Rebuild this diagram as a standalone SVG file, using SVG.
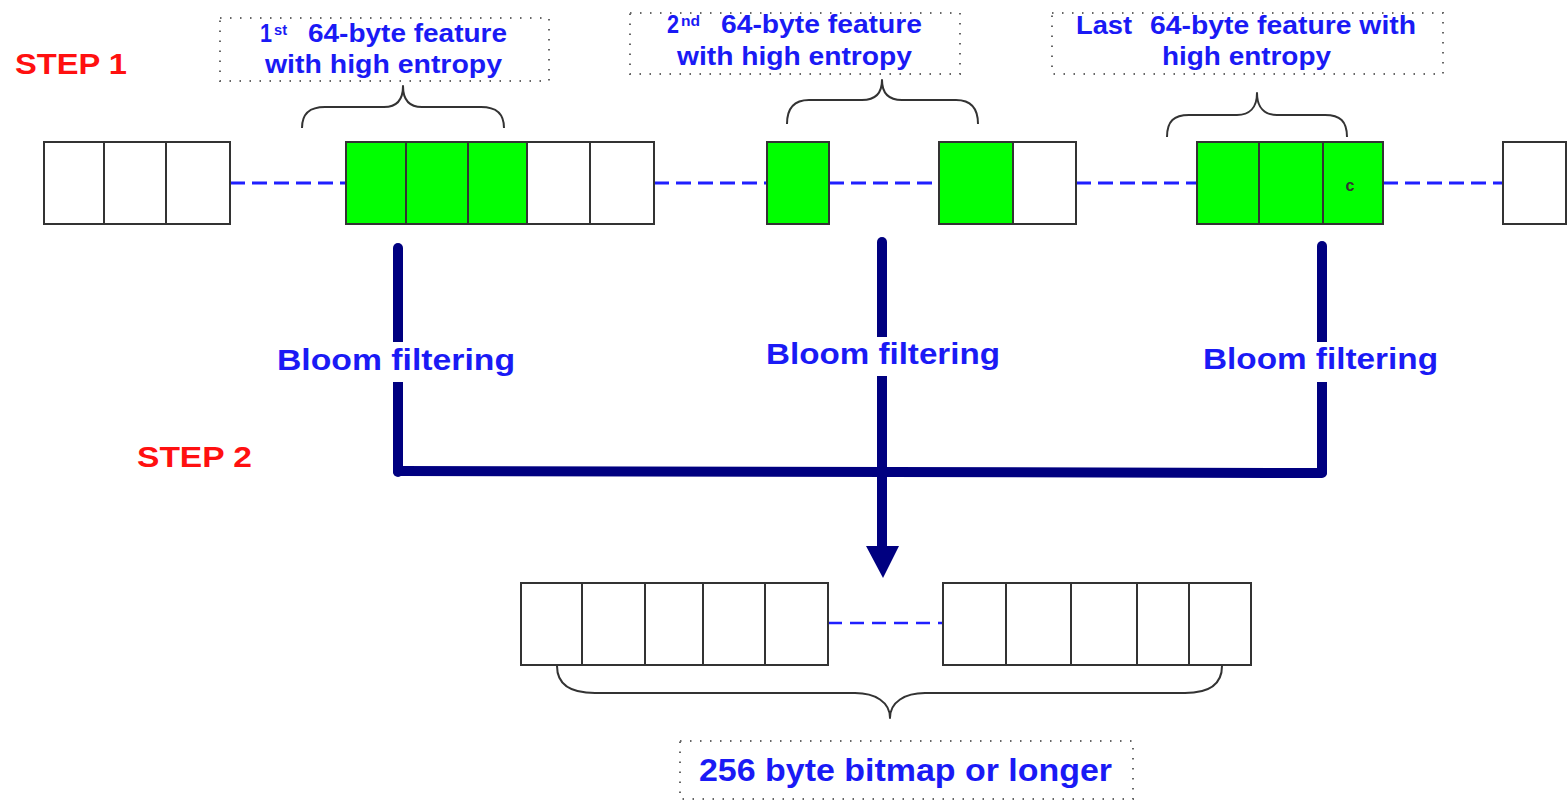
<svg xmlns="http://www.w3.org/2000/svg" width="1568" height="803" viewBox="0 0 1568 803">
  <style>
    .cell { stroke: #333; stroke-width: 2; }
    .w { fill: #ffffff; }
    .g { fill: #00ff00; }
    .dots { fill: none; stroke: #666; stroke-width: 2; stroke-dasharray: 1.5 8.5; }
    .brace { fill: none; stroke: #333; stroke-width: 2; stroke-linejoin: round; }
    .dash { stroke: #1f1fff; stroke-width: 3; stroke-dasharray: 15 7; fill: none; }
    .flow { stroke: #000080; stroke-width: 10; stroke-linecap: round; fill: none; }
    .lbl { font-family: "Liberation Sans", Arial, sans-serif; font-weight: bold; fill: #1a1af5; }
    .step { font-family: "Liberation Sans", Arial, sans-serif; font-weight: bold; font-size: 29px; fill: #ff1010; }
  </style>
  <rect width="1568" height="803" fill="#ffffff"/>

  <!-- step captions -->
  <text class="step" x="15" y="74" textLength="112" lengthAdjust="spacingAndGlyphs">STEP 1</text>
  <text class="step" x="137" y="467" textLength="115" lengthAdjust="spacingAndGlyphs">STEP 2</text>

  <!-- connectors: dashed gaps between byte runs and the bloom filter flow -->
  <g id="connectors">
    <line class="dash" x1="230" y1="183" x2="346" y2="183"/>
    <line class="dash" x1="654" y1="183" x2="767" y2="183"/>
    <line class="dash" x1="829" y1="183" x2="939" y2="183"/>
    <line class="dash" x1="1076" y1="183" x2="1197" y2="183"/>
    <line class="dash" x1="1383" y1="183" x2="1503" y2="183"/>
    <line x1="828" y1="623" x2="975" y2="623" stroke="#1f1fff" stroke-width="2.5" stroke-dasharray="14 8"/>

    <line class="flow" x1="398" y1="248" x2="398" y2="472"/>
    <line class="flow" x1="1322" y1="246" x2="1322" y2="472"/>
    <line class="flow" x1="398" y1="471" x2="1322" y2="473"/>
    <line class="flow" x1="882" y1="242" x2="882" y2="550" stroke-linecap="butt"/>
    <polygon points="866,546 899,546 883,578" fill="#000080"/>
  </g>

  <!-- feature 1 caption -->
  <g id="caption1">
    <rect class="dots" x="220" y="18" width="329" height="63"/>
    <text class="lbl" x="260" y="42" font-size="25" textLength="12" lengthAdjust="spacingAndGlyphs">1</text>
    <text class="lbl" x="274" y="35" font-size="15" textLength="13" lengthAdjust="spacingAndGlyphs">st</text>
    <text class="lbl" x="308" y="42" font-size="25" textLength="199" lengthAdjust="spacingAndGlyphs">64-byte feature</text>
    <text class="lbl" x="265" y="73" font-size="25" textLength="237" lengthAdjust="spacingAndGlyphs">with high entropy</text>
    <path class="brace" d="M302,128 C302,113 310,107 325,107 L384,107 C396,107 403,100 403,86 C403,100 410,107 422,107 L481,107 C496,107 504,113 504,128"/>
  </g>

  <!-- feature 2 caption -->
  <g id="caption2">
    <rect class="dots" x="630" y="13" width="330" height="61"/>
    <text class="lbl" x="667" y="33" font-size="25" textLength="12" lengthAdjust="spacingAndGlyphs">2</text>
    <text class="lbl" x="681" y="26" font-size="15" textLength="19" lengthAdjust="spacingAndGlyphs">nd</text>
    <text class="lbl" x="721" y="33" font-size="25" textLength="201" lengthAdjust="spacingAndGlyphs">64-byte feature</text>
    <text class="lbl" x="677" y="65" font-size="25" textLength="235" lengthAdjust="spacingAndGlyphs">with high entropy</text>
    <path class="brace" d="M787,124 C787,108 794,100 809,100 L862,100 C874,100 882,94 882,80 C882,94 890,100 902,100 L956,100 C971,100 978,108 978,124"/>
  </g>

  <!-- last feature caption -->
  <g id="caption3">
    <rect class="dots" x="1052" y="13" width="391" height="61"/>
    <text class="lbl" x="1076" y="34" font-size="25" textLength="56" lengthAdjust="spacingAndGlyphs">Last</text>
    <text class="lbl" x="1150" y="34" font-size="25" textLength="266" lengthAdjust="spacingAndGlyphs">64-byte feature with</text>
    <text class="lbl" x="1162" y="65" font-size="25" textLength="169" lengthAdjust="spacingAndGlyphs">high entropy</text>
    <path class="brace" d="M1167,137 C1167,121 1174,115 1189,115 L1237,115 C1249,115 1257,108 1257,93 C1257,108 1265,115 1277,115 L1325,115 C1340,115 1347,121 1347,137"/>
  </g>

  <!-- input byte stream -->
  <g id="run1">
    <rect class="cell w" x="44" y="142" width="60" height="82"/>
    <rect class="cell w" x="104" y="142" width="62" height="82"/>
    <rect class="cell w" x="166" y="142" width="64" height="82"/>
  </g>
  <g id="run2">
    <rect class="cell g" x="346" y="142" width="60" height="82"/>
    <rect class="cell g" x="406" y="142" width="62" height="82"/>
    <rect class="cell g" x="468" y="142" width="59" height="82"/>
    <rect class="cell w" x="527" y="142" width="63" height="82"/>
    <rect class="cell w" x="590" y="142" width="64" height="82"/>
  </g>
  <g id="run3">
    <rect class="cell g" x="767" y="142" width="62" height="82"/>
  </g>
  <g id="run4">
    <rect class="cell g" x="939" y="142" width="74" height="82"/>
    <rect class="cell w" x="1013" y="142" width="63" height="82"/>
  </g>
  <g id="run5">
    <rect class="cell g" x="1197" y="142" width="62" height="82"/>
    <rect class="cell g" x="1259" y="142" width="64" height="82"/>
    <rect class="cell g" x="1323" y="142" width="60" height="82"/>
    <text x="1350" y="191" font-family="Liberation Sans, Arial, sans-serif" font-weight="bold" font-size="16" fill="#333" text-anchor="middle">c</text>
  </g>
  <g id="run6">
    <rect class="cell w" x="1503" y="142" width="63" height="82"/>
  </g>

  <!-- bloom filtering labels -->
  <g id="bloom1">
    <rect x="272" y="342" width="248" height="40" fill="#ffffff"/>
    <text class="lbl" x="277" y="370" font-size="29" textLength="238" lengthAdjust="spacingAndGlyphs">Bloom filtering</text>
  </g>
  <g id="bloom2">
    <rect x="760" y="337" width="246" height="39" fill="#ffffff"/>
    <text class="lbl" x="766" y="364" font-size="29" textLength="234" lengthAdjust="spacingAndGlyphs">Bloom filtering</text>
  </g>
  <g id="bloom3">
    <rect x="1198" y="342" width="245" height="40" fill="#ffffff"/>
    <text class="lbl" x="1203" y="369" font-size="29" textLength="235" lengthAdjust="spacingAndGlyphs">Bloom filtering</text>
  </g>

  <!-- resulting bitmap -->
  <g id="bitmap">
    <rect class="cell w" x="521" y="583" width="61" height="82"/>
    <rect class="cell w" x="582" y="583" width="63" height="82"/>
    <rect class="cell w" x="645" y="583" width="58" height="82"/>
    <rect class="cell w" x="703" y="583" width="62" height="82"/>
    <rect class="cell w" x="765" y="583" width="63" height="82"/>
    <rect class="cell w" x="943" y="583" width="63" height="82"/>
    <rect class="cell w" x="1006" y="583" width="65" height="82"/>
    <rect class="cell w" x="1071" y="583" width="66" height="82"/>
    <rect class="cell w" x="1137" y="583" width="52" height="82"/>
    <rect class="cell w" x="1189" y="583" width="62" height="82"/>
    <path class="brace" stroke-width="3" d="M557,666 C557,684 570,693 595,693 L855,693 C875,693 890,702 890,718 C890,702 905,693 925,693 L1185,693 C1210,693 1222,684 1222,666"/>
  </g>

  <g id="bitmap-caption">
    <rect class="dots" x="680" y="741" width="453" height="58"/>
    <text class="lbl" x="699" y="781" font-size="32" textLength="413" lengthAdjust="spacingAndGlyphs">256 byte bitmap or longer</text>
  </g>
</svg>
